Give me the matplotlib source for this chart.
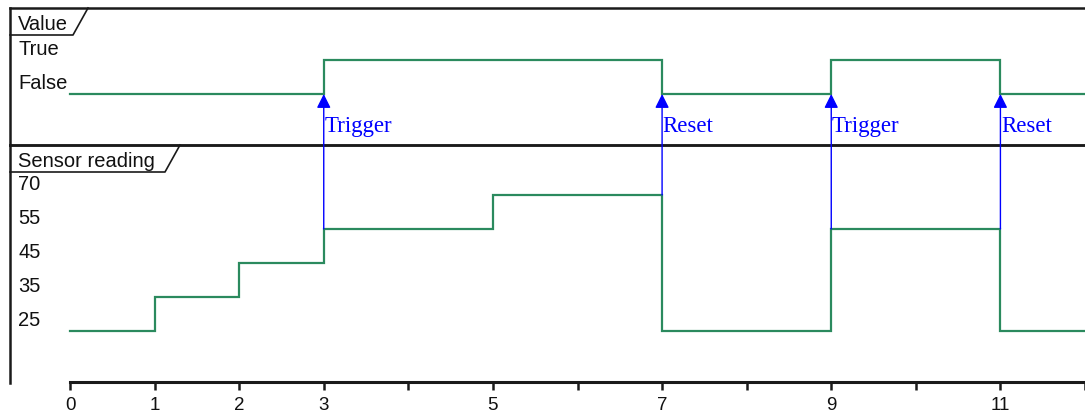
import matplotlib
matplotlib.use('Agg')
import matplotlib.pyplot as plt
from matplotlib.lines import Line2D
from matplotlib.patches import ConnectionPatch

plt.rcParams['font.family'] = ['Liberation Sans', 'DejaVu Sans']

# --- data -------------------------------------------------------------
value_states = ['False', 'True']
value_times = [0, 3, 7, 9, 11]
value_seq = ['False', 'True', 'False', 'True', 'False']

sensor_levels = ['25', '35', '45', '55', '70']
sensor_times = [0, 1, 2, 3, 5, 7, 9, 11]
sensor_seq = ['25', '35', '45', '55', '70', '25', '55', '25']

event_times = [3, 7, 9, 11]
event_labels = ['Trigger', 'Reset', 'Trigger', 'Reset']

t_end = 12

# --- layout -----------------------------------------------------------
W, H = 1085, 417
GREEN = '#2b8a5e'
FRAME = '#1a1a1a'
BLUE = '#0000ff'

fig = plt.figure(figsize=(W / 100, H / 100), dpi=100)


def box(x0, y0, x1, y1):
    # pixel box (top-left origin) -> figure fraction rect
    return [x0 / W, 1 - y1 / H, (x1 - x0) / W, (y1 - y0) / H]


def fpt(x, y):
    return x / W, 1 - y / H


ax_v = fig.add_axes(box(10, 8, 1085, 145))
ax_s = fig.add_axes(box(10, 145, 1085, 383))
ax_t = fig.add_axes(box(70, 381, 1085, 382))

x_left = -60 / (1015 / t_end)
for ax in (ax_v, ax_s):
    ax.set_xlim(x_left, t_end)
    ax.set_xticks([])
    ax.set_yticks([])
    ax.patch.set_alpha(0)
    ax.spines['right'].set_visible(False)
    for s in ax.spines.values():
        s.set_color(FRAME)
        s.set_linewidth(1.8)
ax_s.spines['bottom'].set_visible(False)

ax_v.set_ylim(-1.5, 2.53)
ax_s.set_ylim(-1.53, 5.47)


def step_line(ax, times, seq, states):
    idx = [states.index(v) for v in seq]
    ax.step(list(times) + [t_end], idx + [idx[-1]], where='post',
            color=GREEN, lw=1.6, solid_joinstyle='miter')
    for i, name in enumerate(states):
        ax.annotate(name, xy=(0, i), xycoords=('axes fraction', 'data'),
                    xytext=(6, 3.5), textcoords='offset points',
                    va='baseline', ha='left', fontsize=14.5, color='#111111')


step_line(ax_v, value_times, value_seq, value_states)
step_line(ax_s, sensor_times, sensor_seq, sensor_levels)

# --- trigger / reset arrows ---------------------------------------------
s_idx = [sensor_levels.index(v) for v in sensor_seq]
false_idx = value_states.index('False')
for t, lab in zip(event_times, event_labels):
    k = max(i for i, st in enumerate(sensor_times) if st <= t)
    prev = s_idx[k - 1] if sensor_times[k] == t and k > 0 else s_idx[k]
    top = max(prev, s_idx[k])
    con = ConnectionPatch(xyA=(t, top), coordsA=ax_s.transData,
                          xyB=(t, false_idx), coordsB=ax_v.transData,
                          arrowstyle='-|>', color=BLUE, lw=1.0,
                          mutation_scale=21, shrinkA=0, shrinkB=0)
    fig.add_artist(con)
    ax_v.annotate(lab, xy=(t, false_idx), xytext=(0.5, -27),
                  textcoords='offset points', va='baseline', ha='left',
                  color=BLUE, fontsize=16.5, family=['Liberation Serif'])

# --- panel tabs -----------------------------------------------------------
for (bot, x_in, x_out, top), title in zip([(35, 73, 88, 8), (172, 165, 180, 145)],
                                          ['Value', 'Sensor reading']):
    xs, ys = zip(*[fpt(10, bot), fpt(x_in, bot), fpt(x_out, top)])
    fig.add_artist(Line2D(xs, ys, color=FRAME, lw=1.2))
    fig.text(*fpt(18, bot - 5), title, fontsize=14.5, color='#111111',
             va='baseline', ha='left')

# --- time axis ------------------------------------------------------------
label_times = sorted(set(value_times) | set(sensor_times))
ax_t.set_xlim(0, t_end)
ax_t.set_ylim(0, 1)
ax_t.patch.set_alpha(0)
for side in ('left', 'right', 'top'):
    ax_t.spines[side].set_visible(False)
ax_t.spines['bottom'].set_linewidth(2.2)
ax_t.spines['bottom'].set_color(FRAME)
ax_t.set_yticks([])
ax_t.set_xticks(range(t_end + 1))
ax_t.set_xticklabels([str(t) if t in label_times else '' for t in range(t_end + 1)])
ax_t.tick_params(axis='x', direction='out', length=6, width=1.8, color=FRAME,
                 labelsize=13.5, pad=5, labelcolor='#111111')

fig.savefig('out.png', dpi=100)
